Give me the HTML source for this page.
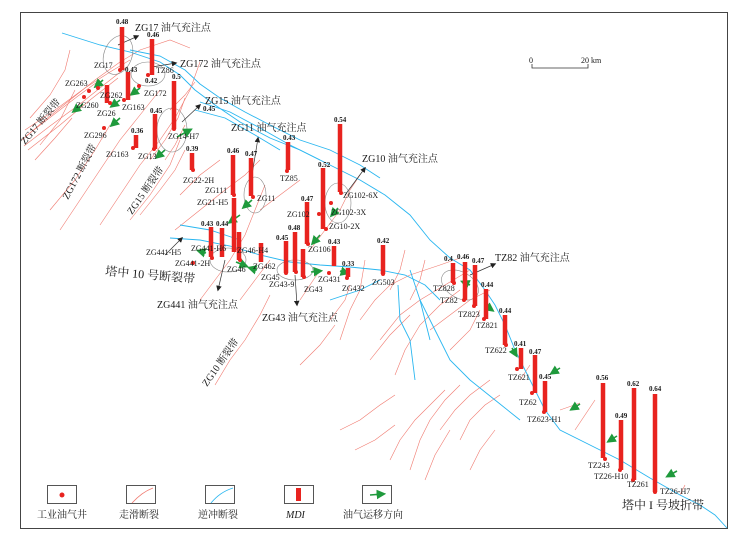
<!DOCTYPE html>
<html><head><meta charset="utf-8"><style>
html,body{margin:0;padding:0;background:#fff;}
svg{display:block;}
text{font-family:"Liberation Serif","Noto Serif CJK SC","Noto Sans CJK SC",serif;fill:#1a1a1a;}
.w{font-size:8px;}
.v{font-size:7px;font-weight:bold;fill:#333;}
.c{font-size:10px;}
.b{stroke:#e8231f;stroke-width:4.5;}
.d{fill:#e8231f;}
.f{stroke:#f07a70;stroke-width:0.6;fill:none;}
.t{stroke:#29b6f0;stroke-width:0.9;fill:none;}
.g{stroke:#1f9a3c;stroke-width:1.6;fill:none;marker-end:url(#ga);}
.k{stroke:#333;stroke-width:0.7;fill:none;marker-end:url(#ka);}
.e{stroke:#888;stroke-width:0.6;fill:none;}
</style></head><body>
<svg width="748" height="535" viewBox="0 0 748 535" xmlns="http://www.w3.org/2000/svg">
<defs>
<marker id="ga" markerWidth="6" markerHeight="6" refX="4" refY="3" orient="auto"><path d="M0,0 L6,3 L0,6 z" fill="#1f9a3c"/></marker>
<marker id="ka" markerWidth="8" markerHeight="8" refX="6" refY="4" orient="auto"><path d="M0,0 L8,4 L0,8 z" fill="#222"/></marker>
</defs>
<rect x="20.5" y="12.5" width="707" height="516" fill="#fff" stroke="#444" stroke-width="1"/>

<!-- red strike-slip faults -->
<g class="f">
<path d="M22,140 L45,120 L70,100 L95,80 L120,62 L140,50 L170,40 L190,48"/>
<path d="M25,130 L55,110 L85,88 L110,72 L130,60"/>
<path d="M28,150 L60,125 L90,100 L118,78"/>
<path d="M24,146 L50,126 L80,104 L105,84 L128,66"/>
<path d="M26,136 L52,116 L78,96 L100,80"/>
<path d="M30,118 L50,95 L65,70 L70,50"/>
<path d="M40,145 L60,120 L75,90"/>
<path d="M35,160 L55,138 L72,118"/>
<path d="M60,230 L80,200 L100,170 L120,140 L140,115 L160,90"/>
<path d="M50,210 L75,180 L95,150 L110,125"/>
<path d="M100,225 L120,195 L140,165 L160,140 L175,118 L190,90 L200,62"/>
<path d="M130,220 L150,195 L170,165 L180,140"/>
<path d="M140,215 L160,190 L175,170 L185,150"/>
<path d="M170,110 L185,95 L195,82"/>
<path d="M150,160 L165,140 L178,118 L185,98"/>
<path d="M165,160 L175,145 L185,125"/>
<path d="M180,195 L200,175 L220,160"/>
<path d="M175,230 L200,210 L225,190 L245,175 L260,160"/>
<path d="M200,300 L215,280 L230,260 L245,235 L255,210 L265,185"/>
<path d="M240,300 L255,280 L270,260"/>
<path d="M215,385 L230,360 L245,340 L260,315 L270,295"/>
<path d="M260,210 L280,195 L300,180"/>
<path d="M310,250 L325,230 L340,210 L350,190 L360,175"/>
<path d="M300,300 L310,285 L320,270"/>
<path d="M330,320 L345,300 L350,285"/>
<path d="M340,340 L350,310 L360,290 L365,260"/>
<path d="M300,365 L320,345 L335,325"/>
<path d="M360,320 L375,300 L390,285 L410,275 L440,265 L460,258"/>
<path d="M380,340 L400,315 L420,300 L445,285 L470,270"/>
<path d="M370,360 L390,335 L410,315"/>
<path d="M395,375 L405,350 L420,325 L440,305 L460,290"/>
<path d="M340,430 L360,420 L380,405 L395,395"/>
<path d="M355,450 L375,440 L395,425"/>
<path d="M390,460 L400,440 L415,420 L430,405 L445,390"/>
<path d="M410,470 L420,440 L430,420 L445,400 L460,385"/>
<path d="M425,480 L435,455 L450,430"/>
<path d="M440,430 L455,410 L470,395 L490,380"/>
<path d="M460,440 L470,420 L485,405 L500,395"/>
<path d="M470,470 L480,450 L495,430"/>
<path d="M430,330 L450,315 L470,300 L490,290"/>
<path d="M450,350 L470,330 L480,310"/>
<path d="M390,290 L400,270 L405,250"/>
<path d="M410,300 L420,280 L425,260"/>
<path d="M575,430 L585,415 L595,400"/>
<path d="M560,410 L580,403"/>
<path d="M680,495 L685,485"/>
<path d="M520,380 L530,365"/>
</g>

<!-- blue thrust faults -->
<g class="t">
<path d="M62,33 L100,45 L130,52 L160,62 L180,75 L195,90 L215,105 L240,122 L270,138 L300,150 L330,165 L360,180 L385,195 L410,215 L430,240 L450,258 L470,270 L485,290 L495,305 L505,325 L515,350 L530,380 L545,410 L560,430 L590,445 L620,460 L650,478 L680,495 L700,505 L715,515 L727,528"/>
<path d="M130,50 L160,56 L185,70 L200,84 L220,98 L245,112 L270,125 L300,140 L330,150 L360,165 L380,178"/>
<path d="M200,102 L230,112 L260,128 L290,145 L320,160"/>
<path d="M195,110 L225,118 L255,135 L280,150"/>
<path d="M170,238 L200,240 L230,246 L260,255 L290,262 L320,265 L350,267 L380,270 L405,275 L425,285 L440,300"/>
<path d="M180,225 L210,230 L240,240"/>
<path d="M330,300 L360,290 L380,280"/>
<path d="M398,285 L400,320 L410,340 L415,380"/>
<path d="M410,270 L420,300 L435,330 L450,360 L470,380 L495,400 L520,420"/>
<path d="M420,300 L430,340"/>
</g>

<!-- ellipses -->
<g class="e">
<ellipse cx="118" cy="55" rx="14" ry="20" transform="rotate(20 118 55)"/>
<ellipse cx="148" cy="74" rx="17" ry="12"/>
<ellipse cx="172" cy="130" rx="15" ry="22"/>
<ellipse cx="255" cy="195" rx="11" ry="18"/>
<ellipse cx="338" cy="203" rx="13" ry="20"/>
<ellipse cx="228" cy="260" rx="18" ry="12"/>
<ellipse cx="295" cy="270" rx="18" ry="10"/>
<ellipse cx="460" cy="285" rx="20" ry="13" transform="rotate(30 460 285)"/>
</g>

<!-- black arrows -->
<g class="k">
<path d="M118,45 L138,36"/>
<path d="M152,67 L176,63"/>
<path d="M182,122 L200,105"/>
<path d="M252,175 L258,138"/>
<path d="M345,195 L365,168"/>
<path d="M470,275 L495,264"/>
<path d="M225,260 L218,290"/>
<path d="M295,275 L297,305"/>
<path d="M165,255 L182,238"/>
</g>

<!-- green arrows -->
<g class="g">
<path d="M103,80 L96,86"/><path d="M83,104 L74,111"/><path d="M120,100 L112,106"/>
<path d="M140,88 L132,94"/><path d="M120,118 L112,125"/><path d="M165,150 L157,157"/>
<path d="M177,137 L190,130"/><path d="M252,200 L244,207"/><path d="M240,215 L230,222"/>
<path d="M338,208 L332,215"/><path d="M320,235 L313,243"/><path d="M206,253 L199,251"/>
<path d="M236,262 L246,266"/><path d="M257,270 L250,268"/><path d="M311,272 L320,271"/>
<path d="M340,271 L347,273"/><path d="M470,285 L463,282"/><path d="M485,305 L492,310"/>
<path d="M512,348 L516,355"/><path d="M560,368 L552,373"/><path d="M580,404 L572,409"/>
<path d="M617,436 L609,441"/><path d="M677,471 L668,476"/>
</g>

<!-- MDI bars -->
<g class="b">
<line x1="122" y1="27" x2="122" y2="70"/><line x1="152" y1="39" x2="152" y2="75"/>
<line x1="128" y1="72" x2="128" y2="100"/><line x1="107" y1="85" x2="107" y2="103"/>
<line x1="174" y1="81" x2="174" y2="129"/><line x1="155" y1="114" x2="155" y2="149"/>
<line x1="136" y1="135" x2="136" y2="148"/><line x1="192" y1="153" x2="192" y2="170"/>
<line x1="233" y1="155" x2="233" y2="195"/><line x1="251" y1="158" x2="251" y2="196"/>
<line x1="288" y1="142" x2="288" y2="170"/><line x1="340" y1="124" x2="340" y2="192"/>
<line x1="323" y1="168" x2="323" y2="229"/><line x1="307" y1="202" x2="307" y2="244"/>
<line x1="234" y1="198" x2="234" y2="252"/><line x1="211" y1="227" x2="211" y2="257"/>
<line x1="222" y1="228" x2="222" y2="257"/><line x1="239" y1="232" x2="239" y2="260"/>
<line x1="261" y1="243" x2="261" y2="262"/><line x1="286" y1="241" x2="286" y2="273"/>
<line x1="295" y1="232" x2="295" y2="272"/><line x1="303" y1="249" x2="303" y2="277"/>
<line x1="334" y1="246" x2="334" y2="266"/><line x1="348" y1="268" x2="348" y2="277"/>
<line x1="383" y1="245" x2="383" y2="274"/>
<line x1="453" y1="263" x2="453" y2="283"/><line x1="465" y1="262" x2="465" y2="300"/>
<line x1="475" y1="265" x2="475" y2="306"/><line x1="486" y1="289" x2="486" y2="319"/>
<line x1="505" y1="315" x2="505" y2="345"/><line x1="521" y1="348" x2="521" y2="369"/>
<line x1="535" y1="355" x2="535" y2="393"/><line x1="545" y1="381" x2="545" y2="412"/>
<line x1="603" y1="383" x2="603" y2="458"/><line x1="621" y1="420" x2="621" y2="470"/>
<line x1="634" y1="388" x2="634" y2="480"/><line x1="655" y1="394" x2="655" y2="492"/>
</g>
<!-- well dots -->
<g class="d">
<circle cx="120" cy="70" r="2"/><circle cx="148" cy="75" r="2"/><circle cx="124" cy="100" r="2"/>
<circle cx="110" cy="103" r="2"/><circle cx="98" cy="88" r="2"/><circle cx="89" cy="91" r="2"/>
<circle cx="84" cy="97" r="2"/><circle cx="139" cy="86" r="2"/><circle cx="104" cy="128" r="2"/>
<circle cx="133" cy="148" r="2"/><circle cx="154" cy="149" r="2"/><circle cx="174" cy="129" r="2"/>
<circle cx="193" cy="170" r="2"/><circle cx="234" cy="195" r="2"/><circle cx="253" cy="197" r="2"/>
<circle cx="287" cy="171" r="2"/><circle cx="341" cy="193" r="2"/><circle cx="331" cy="203" r="2"/>
<circle cx="326" cy="229" r="2"/><circle cx="319" cy="214" r="2"/><circle cx="308" cy="244" r="2"/>
<circle cx="193" cy="263" r="2"/><circle cx="212" cy="258" r="2"/><circle cx="240" cy="260" r="2"/>
<circle cx="261" cy="246" r="2"/><circle cx="286" cy="273" r="2"/><circle cx="296" cy="272" r="2"/>
<circle cx="304" cy="277" r="2"/><circle cx="329" cy="273" r="2"/><circle cx="347" cy="278" r="2"/>
<circle cx="383" cy="274" r="2"/><circle cx="454" cy="283" r="2"/><circle cx="464" cy="300" r="2"/>
<circle cx="474" cy="306" r="2"/><circle cx="484" cy="319" r="2"/><circle cx="506" cy="345" r="2"/>
<circle cx="517" cy="369" r="2"/><circle cx="532" cy="393" r="2"/><circle cx="544" cy="412" r="2"/>
<circle cx="605" cy="459" r="2"/><circle cx="620" cy="470" r="2"/><circle cx="633" cy="480" r="2"/>
<circle cx="655" cy="492" r="2"/>
</g>

<!-- values -->
<g class="v">
<text x="116" y="24">0.48</text><text x="147" y="37">0.46</text><text x="125" y="72">0.43</text>
<text x="145" y="83">0.42</text><text x="172" y="79">0.5</text><text x="150" y="113">0.45</text>
<text x="203" y="111">0.45</text><text x="131" y="133">0.36</text><text x="186" y="151">0.39</text>
<text x="227" y="153">0.46</text><text x="245" y="156">0.47</text><text x="283" y="140">0.43</text>
<text x="334" y="122">0.54</text><text x="318" y="167">0.52</text><text x="301" y="201">0.47</text>
<text x="201" y="226">0.43</text><text x="216" y="226">0.44</text><text x="276" y="240">0.45</text>
<text x="288" y="230">0.48</text><text x="328" y="244">0.43</text><text x="342" y="266">0.33</text>
<text x="377" y="243">0.42</text><text x="444" y="261">0.4</text><text x="457" y="259">0.46</text>
<text x="472" y="263">0.47</text><text x="481" y="287">0.44</text><text x="499" y="313">0.44</text>
<text x="514" y="346">0.41</text><text x="529" y="354">0.47</text><text x="539" y="379">0.45</text>
<text x="596" y="380">0.56</text><text x="615" y="418">0.49</text><text x="627" y="386">0.62</text>
<text x="649" y="391">0.64</text>
</g>

<!-- well labels -->
<g class="w">
<text x="94" y="68">ZG17</text><text x="65" y="86">ZG263</text><text x="100" y="98">ZG262</text>
<text x="76" y="108">ZG260</text><text x="97" y="116">ZG26</text><text x="122" y="110">ZG163</text>
<text x="144" y="96">ZG172</text><text x="156" y="73">TZ86</text><text x="84" y="138">ZG296</text>
<text x="106" y="157">ZG163</text><text x="138" y="159">ZG13</text><text x="168" y="139">ZG14-H7</text>
<text x="183" y="183">ZG22-2H</text><text x="205" y="193">ZG111</text><text x="197" y="205">ZG21-H5</text>
<text x="257" y="201">ZG11</text><text x="280" y="181">TZ85</text><text x="343" y="198">ZG102-6X</text>
<text x="331" y="215">ZG102-3X</text><text x="329" y="229">ZG10-2X</text><text x="287" y="217">ZG102</text>
<text x="308" y="252">ZG106</text><text x="146" y="255">ZG441-H5</text><text x="191" y="251">ZG441-H6</text>
<text x="175" y="266">ZG441-2H</text><text x="237" y="253">ZG46-H4</text><text x="227" y="272">ZG46</text>
<text x="253" y="269">ZG462</text><text x="261" y="280">ZG45</text><text x="269" y="287">ZG43-9</text>
<text x="304" y="292">ZG43</text><text x="318" y="282">ZG431</text><text x="342" y="291">ZG432</text>
<text x="372" y="285">ZG503</text><text x="433" y="291">TZ828</text><text x="440" y="303">TZ82</text>
<text x="458" y="317">TZ823</text><text x="476" y="328">TZ821</text><text x="485" y="353">TZ622</text>
<text x="508" y="380">TZ621</text><text x="519" y="405">TZ62</text><text x="527" y="422">TZ623-H1</text>
<text x="588" y="468">TZ243</text><text x="594" y="479">TZ26-H10</text><text x="627" y="487">TZ261</text>
<text x="660" y="494">TZ26-H7</text>
</g>

<!-- charging points -->
<g class="c">
<text x="135" y="31">ZG17 油气充注点</text><text x="180" y="67">ZG172 油气充注点</text>
<text x="205" y="104">ZG15 油气充注点</text><text x="231" y="131">ZG11 油气充注点</text>
<text x="362" y="162">ZG10 油气充注点</text><text x="495" y="261">TZ82 油气充注点</text>
<text x="157" y="308">ZG441 油气充注点</text><text x="262" y="321">ZG43 油气充注点</text>
</g>
<text x="105" y="275" font-size="12" transform="rotate(5 105 275)">塔中 10 号断裂带</text>
<text x="622" y="509" font-size="12">塔中 I 号坡折带</text>
<text x="25" y="145" font-size="10" transform="rotate(-50 25 145)">ZG17 断裂带</text>
<text x="68" y="200" font-size="10" transform="rotate(-62 68 200)">ZG172 断裂带</text>
<text x="132" y="215" font-size="10" transform="rotate(-55 132 215)">ZG15 断裂带</text>
<text x="207" y="387" font-size="10" transform="rotate(-55 207 387)">ZG10 断裂带</text>

<!-- scale -->
<text x="529" y="63" font-size="8">0</text><text x="581" y="63" font-size="8">20 km</text>
<path d="M532,64 V68 H588 V64" stroke="#333" stroke-width="0.8" fill="none"/>

<!-- legend -->
<g stroke="#555" stroke-width="1" fill="#fff">
<rect x="47.5" y="485.5" width="29" height="18"/><rect x="126.5" y="485.5" width="29" height="18"/>
<rect x="205.5" y="485.5" width="29" height="18"/><rect x="284.5" y="485.5" width="29" height="18"/>
<rect x="362.5" y="485.5" width="29" height="18"/>
</g>
<circle cx="62" cy="495" r="2.5" fill="#e8231f"/>
<path d="M132,503 Q142,492 153,488" class="f" style="stroke-width:0.8"/>
<path d="M211,503 Q220,492 233,488" class="t"/>
<rect x="296" y="488" width="5" height="13" fill="#e8231f"/>
<path d="M370,495 L383,494" class="g"/>
<g font-size="10">
<text x="37" y="518">工业油气井</text><text x="119" y="518">走滑断裂</text>
<text x="198" y="518">逆冲断裂</text><text x="286" y="518" font-style="italic">MDI</text>
<text x="343" y="518">油气运移方向</text>
</g>
</svg>
</body></html>
